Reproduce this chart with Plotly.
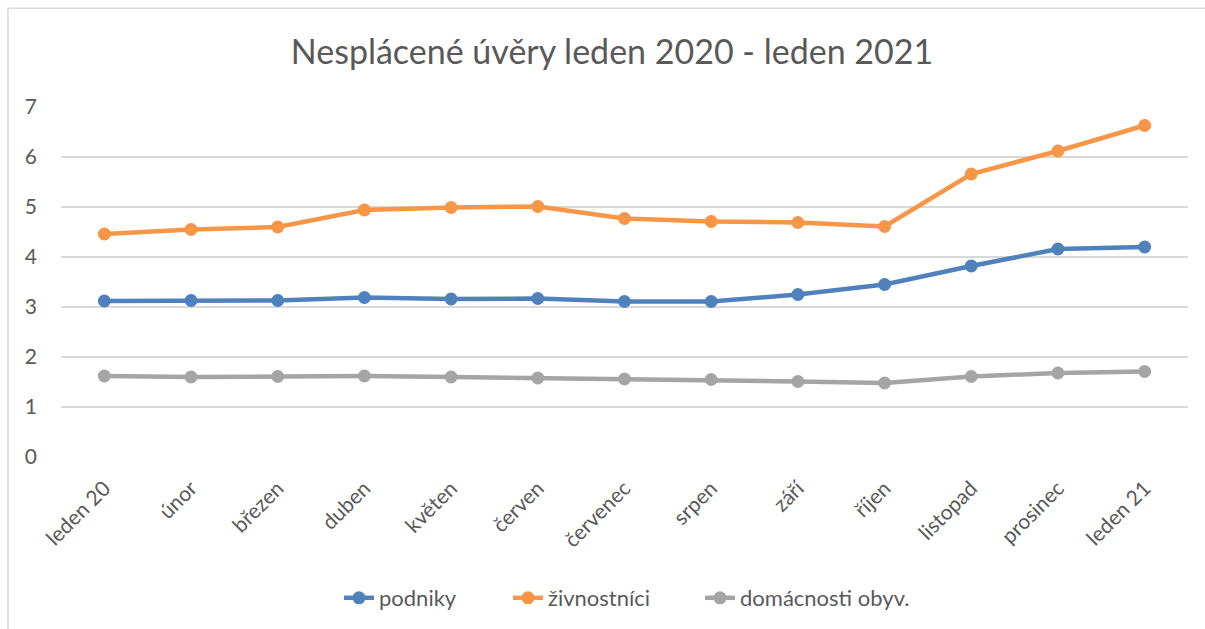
import plotly.graph_objects as go

months = ["leden 20", "únor", "březen", "duben", "květen", "červen", "červenec",
          "srpen", "září", "říjen", "listopad", "prosinec", "leden 21"]
podniky = [3.12, 3.13, 3.13, 3.19, 3.16, 3.17, 3.11, 3.11, 3.25, 3.45, 3.82, 4.16, 4.20]
zivnostnici = [4.46, 4.55, 4.60, 4.94, 4.99, 5.01, 4.77, 4.71, 4.69, 4.61, 5.66, 6.12, 6.63]
domacnosti = [1.62, 1.60, 1.61, 1.62, 1.60, 1.58, 1.56, 1.55, 1.51, 1.48, 1.61, 1.68, 1.71]
y_ticks = [0, 1, 2, 3, 4, 5, 6, 7]

series = [("podniky", podniky, "#4F81BD"),
          ("živnostníci", zivnostnici, "#F79646"),
          ("domácnosti obyv.", domacnosti, "#A5A5A5")]

W, H = 1205, 629
ML, MR, MT, MB = 61, 17, 107, 171
font = "Lato, 'Open Sans', sans-serif"
grey_text = "#595959"

pw = W - ML - MR
ph = H - MT - MB
def px_x(p):
    return (p - ML) / pw
def px_y(p):
    return (H - MB - p) / ph

# legend text start positions (px) in the reference
legend_text_px = [379, 548, 740]
legend_names = ["legend", "legend2", "legend3"]

fig = go.Figure()
for (name, vals, col), lg in zip(series, legend_names):
    fig.add_trace(go.Scatter(
        x=months, y=vals, name=name, mode="lines+markers",
        line=dict(color=col, width=4.5),
        marker=dict(color=col, size=13),
        legend=lg,
    ))

legend_layout = {}
for lg, tx in zip(legend_names, legend_text_px):
    legend_layout[lg] = dict(
        orientation="h", x=px_x(tx - 40), xanchor="left",
        y=px_y(598), yanchor="middle",
        font=dict(size=22, color=grey_text, family=font),
        bgcolor="rgba(0,0,0,0)", borderwidth=0)

fig.update_layout(
    width=W, height=H,
    margin=dict(l=ML, r=MR, t=MT, b=MB),
    paper_bgcolor="white", plot_bgcolor="white",
    font=dict(family=font, color=grey_text, size=21),
    title=dict(text="Nesplácené úvěry leden 2020 - leden 2021",
               x=612 / W, xanchor="center", y=1 - 52 / H, yanchor="middle",
               font=dict(size=34, color=grey_text, family=font)),
    xaxis=dict(type="category", range=[-0.5, 12.5], showgrid=False,
               showline=False, zeroline=False, ticks="", tickangle=-45,
               ticklabelstandoff=14,
               tickfont=dict(size=21, color=grey_text)),
    yaxis=dict(range=[0, 7], tickvals=y_ticks, showgrid=True,
               gridcolor="#D9D9D9", gridwidth=1.5, zeroline=False,
               showline=False, ticks="", ticklabelstandoff=23,
               tickfont=dict(size=21, color=grey_text)),
    showlegend=True,
    shapes=[dict(type="rect", xref="paper", yref="paper",
                 x0=px_x(8), x1=px_x(W + 20), y0=px_y(H + 20), y1=px_y(8),
                 line=dict(color="#D9D9D9", width=1.5), layer="below")],
    **legend_layout,
)

fig.write_html("out.html", config={"displayModeBar": False},
               post_script="document.body.style.margin='0';document.body.style.overflow='hidden';")
